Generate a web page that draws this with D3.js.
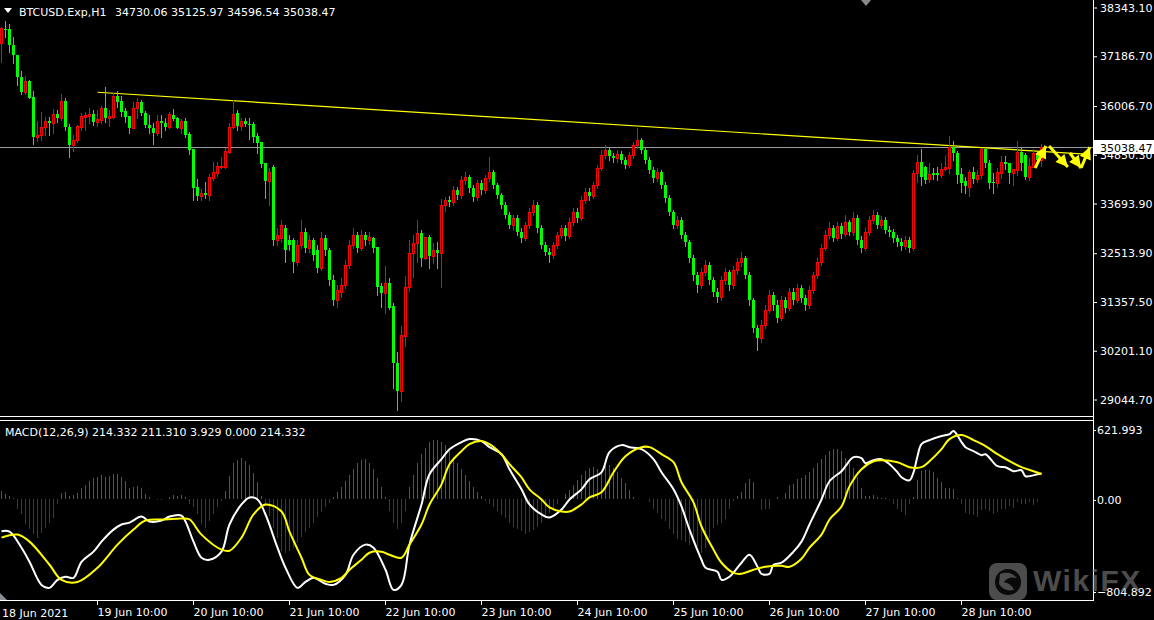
<!DOCTYPE html>
<html><head><meta charset="utf-8">
<script src="https://cdn.jsdelivr.net/npm/d3@7/dist/d3.min.js"></script>
<style>
html,body{margin:0;padding:0;background:#000;}
svg{display:block;}
text{font-family:"DejaVu Sans",sans-serif;font-size:11px;fill:#fff;}
</style></head><body>
<svg id="chart" width="1154" height="620"></svg>
<script>
// ---------------- DATA ----------------
const symbol = "BTCUSD.Exp,H1";
const firstDateLabel = "18 Jun 2021";
const timeTickBars = [24,48,72,96,120,144,168,192,216,240];
const timeTickLabels = ["19 Jun 10:00","20 Jun 10:00","21 Jun 10:00","22 Jun 10:00","23 Jun 10:00","24 Jun 10:00","25 Jun 10:00","26 Jun 10:00","27 Jun 10:00","28 Jun 10:00"];
const priceTicks = [38343.10,37186.70,36006.70,34850.30,33693.90,32513.90,31357.50,30201.10,29044.70];
const priceMin = 29044.70, priceMax = 38343.10;
const macdMax = 621.993, macdMin = -804.892;
const macdLegend = [214.332, 211.310, 3.929, 0.000, 214.332];

const opens = [37513,37845,37845,37466,37228,36707,36351,36612,36232,35283,
35331,35521,35663,35615,35829,35734,36137,35521,35094,35212,
35521,35758,35781,35829,35639,35687,35971,35734,35758,36256,
36137,35900,35781,35497,35971,36114,35853,35568,35497,35378,
35663,35615,35521,35805,35734,35497,35663,35355,34999,34097,
33884,33955,33907,34311,34429,34572,34572,34928,35521,35853,
35544,35663,35592,35592,35307,35165,34667,34240,34572,32840,
32888,33125,32840,32840,32318,32722,33030,32651,32840,32603,
32176,32888,32603,31891,31417,31607,31773,32247,32722,32959,
32651,32959,32840,32895,32681,31749,31590,31813,31275,29930,
29266,30571,31718,32525,32762,32999,32406,32904,32468,32603,
32525,33670,33789,33742,34026,33907,34263,34335,34074,33860,
34192,34026,34311,34453,34145,33907,33670,33433,33196,33362,
33030,32888,33196,33504,33670,33125,32722,32556,32484,32722,
32959,33125,32935,33267,33504,33362,33789,33979,33884,34145,
34548,34857,34975,34833,34785,34880,34738,34619,34857,35094,
35212,34975,34738,34501,34311,34453,34145,33836,33504,33196,
33315,32959,32793,32413,32010,31773,32081,32247,31891,31607,
31488,31891,32081,31773,32129,32318,32413,32010,31417,30753,
30516,30824,31180,31536,31298,30990,31417,31227,31607,31417,
31702,31464,31298,31654,32010,32318,32651,32959,33125,32888,
33172,32983,33267,33030,33362,32840,32651,33030,33315,33433,
33196,33315,33077,33030,32888,32793,32698,32840,32651,34422,
34697,34572,34280,34422,34422,34382,34517,34541,35053,34911,
34399,34240,34105,34446,34287,34382,34992,34660,34223,34185,
34437,34697,34674,34437,34501,34935,34857,34327,34579,34897,
34730.06];

const highs = [37893,38035,37964,37655,37228,36849,36730,36636,36374,35663,
35876,35758,35758,35948,35924,36303,36208,35592,35331,35568,
35853,35876,35971,35924,35924,36019,36469,35924,36327,36374,
36256,35971,35781,36114,36208,36161,35900,35805,35615,35805,
35805,35734,35876,35948,35758,35710,35734,35402,34999,34287,
34050,34216,34406,34690,34690,34809,35022,35615,36161,35924,
35734,35734,35734,35639,35378,35165,34667,34548,34619,33125,
33315,33196,32959,32888,32840,33315,33125,32959,32888,32722,
33030,32959,32651,32010,31773,31939,32366,32840,33125,33030,
33077,33030,33030,32918,32681,31820,32224,31939,31346,30191,
30800,31986,32840,32959,33315,33077,32918,32959,32769,32800,
33813,33860,33884,34121,34097,34358,34453,34382,34145,34263,
34263,34382,34809,34501,34192,33955,33742,33504,33433,33433,
33125,33267,33599,33789,33742,33196,32793,32651,32793,33030,
33196,33196,33362,33599,33599,33884,34074,34074,34216,34619,
34975,35094,35046,34904,34975,34951,34809,34928,35165,35497,
35260,35046,34809,34572,34548,34501,34216,33907,33552,33410,
33386,33030,32840,32484,32081,32176,32366,32318,31963,31702,
31986,32176,32129,32224,32413,32556,32461,32081,31464,30824,
30943,31298,31654,31607,31417,31512,31488,31702,31702,31796,
31773,31536,31749,32081,32413,32745,33077,33267,33196,33267,
33243,33433,33315,33504,33433,32935,33125,33410,33552,33504,
33410,33386,33172,33101,32959,32888,32935,32911,34501,34857,
34992,34596,34660,34555,34579,34674,34833,35307,35196,34958,
34541,34327,34501,34579,34501,35015,35053,34738,34422,34541,
34833,34833,34674,34517,35196,35015,34897,34778,34992,34928,
35125.97];

const lows = [37062,37655,37300,37039,36517,36303,36303,36197,35117,35189,
35212,35331,35331,35378,35639,35687,35449,34809,34951,35165,
35449,35449,35615,35568,35544,35615,35639,35544,35734,35995,
35781,35639,35378,35497,35734,35805,35521,35378,35117,35331,
35283,35449,35497,35687,35497,35378,35283,34880,33789,33789,
33789,33836,33789,34263,34358,34548,34548,34904,35497,35449,
35449,35544,35236,35165,34904,34572,33836,33670,32722,32722,
32793,32318,32603,32081,32247,32651,32556,32556,32366,32081,
32129,32484,31773,31298,31251,31488,31701,32176,32651,32556,
32603,32722,32746,32563,31536,31258,31116,31204,29330,28808,
29028,30333,31638,31970,32326,32224,32390,32169,32295,32169,
31718,33535,33647,33670,33813,33836,34168,33979,33765,33789,
33931,33955,34240,34074,33836,33599,33362,33125,33077,32959,
32793,32840,33125,33433,33030,32651,32484,32318,32413,32651,
32888,32840,32888,33196,33267,33315,33718,33789,33836,34074,
34501,34785,34738,34690,34690,34667,34548,34572,34785,35022,
34904,34667,34429,34216,34240,34074,33742,33433,33125,33125,
32888,32698,32318,31891,31607,31702,32010,31796,31512,31370,
31417,31796,31654,31702,32034,32224,31939,31298,30658,30231,
30421,30753,31132,31180,30895,30943,31132,31180,31322,31370,
31370,31180,31227,31583,31939,32247,32603,32888,32816,32840,
32888,32935,32959,32959,32745,32556,32603,32959,33243,33125,
33125,33006,32935,32793,32698,32603,32627,32556,32603,34223,
34145,34192,34223,34280,34263,34327,34501,34422,34738,34185,
33986,33962,33884,34185,34223,34304,34579,34067,33962,34105,
34304,34517,34199,34145,34382,34501,34280,34263,34565,34690,
34596.54];

const closes = [37869,37821,37466,37228,36707,36351,36612,36208,35283,35331,
35521,35663,35615,35829,35734,36137,35521,35094,35212,35544,
35781,35805,35829,35639,35710,35971,35734,35781,36256,36114,
35876,35758,35497,35971,36114,35853,35568,35497,35378,35663,
35615,35521,35829,35710,35497,35663,35331,34975,34074,33884,
33955,33907,34335,34453,34596,34596,34951,35521,35829,35544,
35663,35592,35568,35283,35141,34643,34240,34453,32840,32959,
33196,32603,32722,32318,32722,33030,32651,32840,32484,32176,
32888,32603,31891,31417,31654,31773,32247,32722,32959,32651,
32959,32840,32911,32643,31732,31590,31813,31220,29915,29266,
30587,31718,32525,32762,32999,32406,32904,32461,32603,32525,
33670,33789,33742,34026,33907,34263,34335,34074,33860,34192,
34026,34311,34453,34145,33907,33670,33433,33196,33362,33030,
32888,33196,33504,33670,33125,32722,32556,32484,32722,32959,
33125,32935,33267,33504,33362,33789,33979,33884,34145,34548,
34857,34975,34833,34785,34880,34738,34619,34857,35094,35212,
34975,34738,34501,34311,34453,34145,33836,33504,33196,33315,
32959,32793,32413,32010,31773,32081,32247,31891,31607,31488,
31891,32081,31773,32129,32318,32413,32010,31417,30753,30516,
30824,31180,31536,31298,30990,31417,31227,31607,31417,31702,
31464,31298,31654,32010,32318,32651,32959,33125,32888,33172,
32983,33267,33030,33362,32840,32651,33030,33315,33433,33196,
33315,33077,33030,32888,32793,32698,32840,32651,34422,34697,
34342,34263,34399,34382,34382,34517,34579,35053,34897,34382,
34199,34128,34446,34287,34382,34992,34660,34185,34185,34460,
34697,34643,34437,34517,34935,34660,34342,34596,34897,34730,
35038.47];

// MACD histogram (one per bar)
const macdHist = [65,42,28,8,-84,-127,-211,-253,-295,-329,
-281,-239,-197,-155,-42,48,56,28,34,51,
93,121,155,177,188,203,183,197,211,211,
183,155,93,98,113,93,42,14,-3,-4,
-4,-3,20,37,28,34,14,-37,-65,-127,
-211,-239,-183,-127,-65,-20,70,197,301,329,
343,323,290,217,141,28,-56,-141,-239,-324,
-436,-450,-436,-408,-366,-320,-280,-240,-200,-150,
-110,-70,-30,20,60,100,150,200,250,300,
330,340,300,250,180,100,20,-100,-200,-250,
-200,-100,100,200,300,380,430,480,500,500,
480,450,400,350,300,250,200,150,100,60,
30,-20,-40,-70,-100,-130,-160,-200,-230,-250,
-270,-290,-280,-260,-230,-200,-160,-120,-80,-40,
0,40,80,120,160,200,240,260,270,250,
225,281,287,259,225,174,135,76,14,5,
5,5,-23,-79,-113,-163,-183,-253,-295,-338,
-343,-360,-388,-366,-394,-450,-408,-324,-239,-219,
-197,-163,-79,-14,23,62,135,169,141,5,
-90,-84,-79,5,14,5,51,118,127,169,
180,200,230,260,300,340,370,400,420,420,
405,349,301,259,188,90,25,28,34,14,
11,6,-8,-37,-79,-107,-135,-45,14,160,
236,245,245,225,180,146,90,96,84,11,
-37,-113,-121,-135,-149,-93,-79,-101,-121,-107,
-84,-79,-56,-73,-23,-45,-45,-28,-51,-23,
3.929];

// MACD main line (white), sampled at bar indices
const macdBars = [0,2,5,7,10,12,14,16,18,20,23,25,28,30,32,35,37,40,42,45,46,48,50,52,55,57,60,62,64,66,69,71,74,76,78,81,83,86,88,91,93,96,98,100,102,105,107,110,112,115,117,120,122,125,127,130,132,135,137,140,142,145,147,150,152,155,157,160,163,165,168,170,172,175,176,179,180,182,185,187,189,190,192,193,195,198,200,202,205,207,210,211,213,215,216,218,220,222,224,225,227,228,229,230,232,235,237,238,240,241,243,245,246,249,251,253,255,256,259,260];
const macdVals = [-270,-273,-408,-526,-720,-745,-678,-652,-661,-526,-441,-357,-256,-213,-197,-146,-188,-180,-146,-138,-188,-357,-492,-509,-441,-213,-45,14,-3,-129,-408,-576,-745,-695,-661,-711,-720,-636,-467,-382,-408,-593,-762,-720,-382,-45,208,335,419,479,504,487,436,377,250,82,-45,-129,-154,-87,-3,82,166,225,394,453,436,419,335,225,82,-62,-256,-509,-576,-610,-678,-652,-534,-467,-568,-627,-627,-551,-534,-441,-357,-213,-3,150,234,276,352,343,301,327,335,293,225,183,158,225,360,462,495,529,546,571,479,436,403,369,377,276,268,234,242,192,208,214.332];
// Signal line (yellow)
const signalBars = [0,4,7,12,15,19,24,29,33,36,41,45,47,50,55,57,60,63,66,70,72,75,77,80,82,85,87,90,92,95,97,100,102,105,107,110,112,115,117,120,122,125,127,130,132,135,137,140,142,145,147,150,153,156,160,162,165,168,170,173,175,178,180,183,185,188,191,195,197,200,202,205,207,210,212,215,218,220,224,227,230,232,235,237,240,243,246,249,252,255,258,260];
const signalVals = [-323,-298,-357,-551,-678,-695,-576,-382,-256,-180,-171,-163,-171,-298,-424,-433,-323,-129,-45,-104,-273,-492,-636,-678,-695,-661,-593,-509,-450,-441,-467,-492,-382,-213,-45,124,293,403,462,487,462,377,293,183,82,-3,-70,-104,-104,-45,14,57,225,360,436,436,377,310,141,-28,-230,-424,-534,-619,-627,-593,-568,-560,-568,-500,-408,-298,-171,-62,107,251,318,327,310,268,268,318,419,504,538,495,445,377,318,268,234,211.310];

// Drawn objects
const trendBars = [24, 272];
const trendPrices = [36345, 34870];
const arrowFrom = [[258.4,34548],[261.9,35070],[267.1,34904],[269.9,34548]];
const arrowTo   = [[261.1,35070],[266.6,34572],[269.9,34548],[272.1,35046]];

// ---------------- DRAW ----------------
const N = closes.length;
const W = 1154, H = 620, plotR = 1093;
const BULL = "#ff0000", BEAR = "#00ff00";
const svg = d3.select("#chart");
svg.append("rect").attr("width", W).attr("height", H).attr("fill", "#000");

const x = d3.scaleLinear().domain([0, N - 1]).range([1.5, 1.5 + 4 * (N - 1)]);
const y = d3.scaleLinear().domain([priceMin, priceMax]).range([400, 8]);
const ym = d3.scaleLinear().domain([macdMin, macdMax]).range([595, 425]);
const col = i => Math.floor(x(i));
const fmt2 = d3.format(".2f"), fmt3 = d3.format(".3f");

// current price line
const cpY = Math.round(y(closes[N - 1])) + 0.5;
svg.append("line").attr("x1", 0).attr("x2", plotR).attr("y1", cpY).attr("y2", cpY)
  .attr("stroke", "#9a9ca4").attr("stroke-width", 1);

// trendline
svg.append("line")
  .attr("x1", x(trendBars[0])).attr("y1", y(trendPrices[0]))
  .attr("x2", x(trendBars[1])).attr("y2", y(trendPrices[1]))
  .attr("stroke", "#ffff00").attr("stroke-width", 1.2);

// candles
const idx = d3.range(N);
const cg = svg.append("g").attr("shape-rendering", "crispEdges");
cg.selectAll("line.wick").data(idx).join("line").attr("class", "wick")
  .attr("x1", i => col(i) + 0.5).attr("x2", i => col(i) + 0.5)
  .attr("y1", i => Math.round(y(highs[i]))).attr("y2", i => Math.round(y(lows[i])) + 1)
  .attr("stroke", i => closes[i] >= opens[i] ? BULL : BEAR);
cg.selectAll("rect.body").data(idx).join("rect").attr("class", "body")
  .each(function(i) {
    const top = Math.round(y(Math.max(opens[i], closes[i])));
    const bot = Math.round(y(Math.min(opens[i], closes[i])));
    const sel = d3.select(this);
    if (closes[i] >= opens[i]) {
      sel.attr("x", col(i) - 0.5).attr("y", top + 0.5).attr("width", 2)
        .attr("height", Math.max(bot - top, 1)).attr("fill", "#000").attr("stroke", BULL);
    } else {
      sel.attr("x", col(i) - 1).attr("y", top).attr("width", 3)
        .attr("height", Math.max(bot - top, 1)).attr("fill", BEAR);
    }
  });

// drawn arrows (yellow)
const ag = svg.append("g");
function head(p0, p1, len, half) {
  const dx = p1[0] - p0[0], dy = p1[1] - p0[1], L = Math.hypot(dx, dy);
  const ux = dx / L, uy = dy / L, bx = p1[0] - ux * len, by = p1[1] - uy * len;
  return [[p1[0], p1[1]], [bx - uy * half, by + ux * half], [bx + uy * half, by - ux * half]];
}
arrowFrom.forEach((f, k) => {
  const p0 = [x(f[0]), y(f[1])], p1 = [x(arrowTo[k][0]), y(arrowTo[k][1])];
  ag.append("line").attr("x1", p0[0]).attr("y1", p0[1]).attr("x2", p1[0]).attr("y2", p1[1])
    .attr("stroke", "#ffff00").attr("stroke-width", 3);
  ag.append("polygon").attr("points", head(p0, p1, 12, 6).map(p => p.join(",")).join(" "))
    .attr("fill", "#ffff00");
});

// MACD panel
const clip = svg.append("defs").append("clipPath").attr("id", "mclip");
clip.append("rect").attr("x", 0).attr("y", 421).attr("width", plotR).attr("height", 179);
const mg = svg.append("g").attr("clip-path", "url(#mclip)");
mg.append("g").attr("shape-rendering", "crispEdges").selectAll("line").data(macdHist).join("line")
  .attr("x1", (d, i) => col(i) + 0.5).attr("x2", (d, i) => col(i) + 0.5)
  .attr("y1", Math.round(ym(0))).attr("y2", d => Math.round(ym(d)))
  .attr("stroke", d => d >= 0 ? "#dc143c" : "#006400");
const lineGen = d3.line().x(d => x(d[0])).y(d => ym(d[1])).curve(d3.curveCatmullRom.alpha(0.5));
mg.append("path").datum(macdBars.map((b, k) => [b, macdVals[k]])).attr("d", lineGen)
  .attr("fill", "none").attr("stroke", "#ffffff").attr("stroke-width", 2);
mg.append("path").datum(signalBars.map((b, k) => [b, signalVals[k]])).attr("d", lineGen)
  .attr("fill", "none").attr("stroke", "#ffff00").attr("stroke-width", 2);

// borders
const bl = svg.append("g").attr("stroke", "#fff").attr("shape-rendering", "crispEdges");
bl.append("line").attr("x1", plotR + 0.5).attr("x2", plotR + 0.5).attr("y1", 0).attr("y2", 601);
bl.append("line").attr("x1", 0).attr("x2", plotR).attr("y1", 416.5).attr("y2", 416.5);
bl.append("line").attr("x1", 0).attr("x2", plotR).attr("y1", 420.5).attr("y2", 420.5);
bl.append("line").attr("x1", 0).attr("x2", plotR + 1).attr("y1", 600.5).attr("y2", 600.5);

// price axis
const pa = svg.append("g").attr("transform", `translate(${plotR},0)`)
  .call(d3.axisRight(y).tickValues(priceTicks).tickFormat(fmt2).tickSize(4).tickPadding(3).offset(0));
pa.select(".domain").remove();
pa.selectAll(".tick line").attr("stroke", "#fff");
pa.selectAll(".tick text").attr("fill", "#fff").style("font-family", "DejaVu Sans").style("font-size", "11px");

// current price label (covers part of the nearby tick label, as in the original)
svg.append("rect").attr("x", plotR + 1).attr("y", Math.round(y(closes[N - 1])) - 7)
  .attr("width", W - plotR - 1).attr("height", 14).attr("fill", "#fff");
svg.append("text").attr("x", 1100).attr("y", y(closes[N - 1]) + 4.5)
  .style("fill", "#000").text(fmt2(closes[N - 1]));

// macd axis
const macdLabels = [macdMax, 0, macdMin];
const macdFmt = [fmt3, fmt2, fmt3];
const macdLabelOffset = [5, 1, -3];
macdLabels.forEach((v, k) => {
  const yy = ym(v) + macdLabelOffset[k];
  svg.append("line").attr("x1", plotR).attr("x2", plotR + 3).attr("y1", Math.round(yy) + 0.5)
    .attr("y2", Math.round(yy) + 0.5).attr("stroke", "#fff");
  svg.append("text").attr("x", 1097).attr("y", yy + 4).text(macdFmt[k](v));
});

// time axis
const ta = svg.append("g").attr("transform", "translate(0,600)")
  .call(d3.axisBottom(x).tickValues(timeTickBars).tickFormat((d, i) => timeTickLabels[i]).tickSize(5).tickPadding(3).offset(0));
ta.select(".domain").remove();
ta.selectAll(".tick line").attr("stroke", "#fff");
ta.selectAll(".tick text").attr("text-anchor", "start").attr("x", 0).attr("fill", "#fff")
  .style("font-family", "DejaVu Sans").style("font-size", "11px");
svg.append("text").attr("x", 2).attr("y", 617).text(firstDateLabel);

// small markers
svg.append("polygon").attr("points", "0,593 0,600 7,600").attr("fill", "#8a9098");
svg.append("polygon").attr("points", "861,0 871,0 866,6").attr("fill", "#8a8a8a");

// header
svg.append("polygon").attr("points", "4,8 12,8 8,13").attr("fill", "#fff");
svg.append("text").attr("x", 19).attr("y", 16).text(symbol);
svg.append("text").attr("x", 115).attr("y", 16)
  .text([opens[N - 1], highs[N - 1], lows[N - 1], closes[N - 1]].map(fmt2).join(" "));
svg.append("text").attr("x", 5).attr("y", 436)
  .text("MACD(12,26,9) " + macdLegend.map(fmt3).join(" "));

// watermark
const wm = svg.append("g").attr("opacity", 0.55);
wm.append("rect").attr("x", 989).attr("y", 563).attr("width", 38).attr("height", 37).attr("rx", 8).attr("fill", "#8a8a8a");
wm.append("circle").attr("cx", 1008).attr("cy", 582).attr("r", 13).attr("fill", "#111");
wm.append("path").attr("d", "M1000,574 Q1010,570 1017,578 Q1008,576 1004,582 Q1012,584 1014,590 Q1004,592 999,584 Z").attr("fill", "#8a8a8a");
wm.append("text").attr("x", 1033).attr("y", 591).style("font-family", "Liberation Sans, Arial, sans-serif")
  .style("font-weight", "bold").style("font-size", "30px").style("letter-spacing", "1.5px")
  .style("fill", "#8a8a8a").text("WikiFX");
</script>
</body></html>
